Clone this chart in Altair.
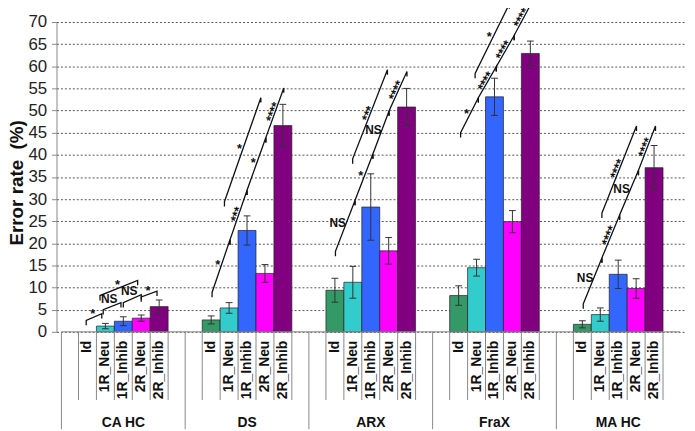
import altair as alt
import pandas as pd
import numpy as np

FONT = "Liberation Sans"

# ---------------- data ----------------
groups = ["CA HC", "DS", "ARX", "FraX", "MA HC"]
conditions = ["Id", "1R_Neu", "1R_Inhib", "2R_Neu", "2R_Inhib"]
colors = ["#339966", "#33CCCC", "#3366FF", "#FF00FF", "#800080"]

id_mean = [0.0, 2.7, 9.4, 8.2, 1.7]
id_err = [0.0, 0.9, 2.7, 2.2, 0.8]
r1neu_mean = [1.3, 5.4, 11.2, 14.5, 3.9]
r1neu_err = [0.6, 1.2, 3.6, 1.9, 1.5]
r1inh_mean = [2.4, 22.9, 28.2, 53.1, 13.0]
r1inh_err = [1.0, 3.3, 7.5, 4.2, 3.2]
r2neu_mean = [3.1, 13.2, 18.3, 24.9, 9.8]
r2neu_err = [0.7, 2.0, 3.0, 2.5, 2.2]
r2inh_mean = [5.7, 46.6, 50.8, 62.9, 37.1]
r2inh_err = [1.5, 4.8, 4.2, 2.8, 5.0]

means = [id_mean, r1neu_mean, r1inh_mean, r2neu_mean, r2inh_mean]
errs = [id_err, r1neu_err, r1inh_err, r2neu_err, r2inh_err]

# significance brackets: group, from bar, to bar, y at start, y at end, label
br_group = [0, 0, 0, 0, 0,
            1, 1, 1, 1, 1,
            2, 2, 2, 2, 2,
            3, 3, 3, 3, 3,
            4, 4, 4, 4, 4]
br_from = [-0.07, 0.88, 0.70, 2.00, 3.00,
           0.05, 1.05, 2.00, 3.05, 0.74,
           0.03, 1.12, 2.12, 3.02, 0.99,
           0.11, 1.10, 2.10, 3.10, 0.92,
           0.05, 1.09, 2.08, 3.13, 1.09]
br_to = [0.80, 1.87, 2.80, 3.00, 3.88,
         1.05, 2.00, 3.05, 4.05, 2.77,
         1.12, 2.12, 3.02, 4.02, 2.93,
         1.10, 2.10, 3.10, 4.09, 2.83,
         1.09, 2.08, 3.13, 4.08, 3.02]
br_y1 = [2.6, 5.0, 8.2, 6.6, 7.9,
         8.9, 20.8, 32.0, 43.9, 29.4,
         18.2, 29.7, 40.2, 49.9, 39.1,
         45.0, 52.9, 59.9, 67.0, 58.4,
         6.3, 16.7, 26.4, 36.5, 26.8]
br_y2 = [4.1, 6.6, 11.6, 8.4, 9.2,
         20.8, 32.0, 43.9, 55.1, 52.9,
         29.7, 40.2, 49.9, 58.8, 59.2,
         52.9, 59.9, 67.0, 74.5, 74.1,
         16.7, 26.4, 36.5, 46.5, 46.5]
br_label = ["*", "NS", "*", "NS", "*",
            "*", "***", "*", "****", "*",
            "NS", "*", "NS", "****", "***",
            "*", "****", "****", "****", "*",
            "NS", "****", "NS", "****", "****"]

# ---------------- layout ----------------
W, H = 635, 313
YMAX = 70
PAD = 17.5 / 127.0       # group margin (group units)
BW = 18.4 / 127.0        # bar width (group units)
SX = W / 5.0             # px per group unit
SY = H / float(YMAX)     # px per y unit
LEG = 1.1                # bracket leg length (y units)

xscale = alt.Scale(domain=[0, 5], nice=False, zero=False)
yscale = alt.Scale(domain=[0, YMAX], nice=False, zero=True)

# bars
rows = []
for g, gname in enumerate(groups):
    for b, cname in enumerate(conditions):
        m = means[b][g]
        e = errs[b][g]
        x0 = g + PAD + b * BW
        rows.append(dict(group=gname, cond=cname, x0=x0, x1=x0 + BW,
                         xc=x0 + BW / 2, value=m, zero=0.0, lo=m - e, hi=m + e,
                         ylab=-2.0,
                         cl=x0 + BW / 2 - 3.5 / SX, cr=x0 + BW / 2 + 3.5 / SX))
bars = pd.DataFrame(rows)
bars_nz = bars[bars["value"] > 0]
errdf = bars[(bars["hi"] - bars["lo"]) > 0]
caps = pd.concat([errdf.assign(ycap=errdf["hi"]), errdf.assign(ycap=errdf["lo"])])

# bracket lines and labels
lrows, trows = [], []
for i in range(len(br_group)):
    g = br_group[i]
    xa = g + PAD + (br_from[i] + 0.5) * BW
    xb = g + PAD + (br_to[i] + 0.5) * BW
    ya, yb = br_y1[i], br_y2[i]
    pts = [(xa, ya - LEG), (xa, ya), (xb, yb), (xb, yb - LEG)]
    for k, (px, py) in enumerate(pts):
        lrows.append(dict(bid=i, k=k, x=px, y=py))
    dx = (xb - xa) * SX
    dy = (yb - ya) * SY
    L = np.hypot(dx, dy)
    nx, ny = -dy / L, dx / L
    lab = br_label[i]
    if lab == "NS":
        d = 6 * abs(ny) + 6.5 * abs(nx)
        ang = 0
        kind = "ns"
    elif lab == "*":
        d = 3.5
        ang = 0
        kind = "star"
    else:
        d = 1.5
        ang = 360 - np.degrees(np.arctan2(dy, dx))
        kind = "star"
    mx, my = (xa + xb) / 2 * SX, (ya + yb) / 2 * SY
    trows.append(dict(label=lab, kind=kind, x=(mx + d * nx) / SX,
                      y=(my + d * ny) / SY, ang=float(ang)))
blines = pd.DataFrame(lrows)
blabels = pd.DataFrame(trows)

# under-axis separators
srows = []
for g in range(len(groups)):
    srows.append(dict(x=g, y1=0, y2=-22.0))
    for b in range(len(conditions) + 1):
        srows.append(dict(x=g + PAD + b * BW, y1=0, y2=-15.4))
seps = pd.DataFrame(srows)
grp = pd.DataFrame(dict(group=groups, x=[g + 0.5 for g in range(len(groups))],
                        y=[-20.5] * len(groups)))
base = pd.DataFrame(dict(x=[0], x2=[5], y=[0]))

# ---------------- chart ----------------
yaxis = alt.Axis(values=list(range(0, YMAX + 1, 5)), grid=True, gridColor="#555",
                 gridDash=[2, 2], gridWidth=1, domainColor="#888", tickColor="#888",
                 tickSize=5, labelFont=FONT, labelFontSize=17, labelColor="#222",
                 labelPadding=5, title="Error rate\u00a0\u00a0(%)", titleFont=FONT,
                 titleFontSize=19, titleFontWeight="bold", titleColor="#111",
                 titleAngle=270, titleX=-40, titleY=162, titleAlign="center",
                 titleBaseline="middle")

X = lambda f: alt.X(f, type="quantitative", scale=xscale, axis=None)
Y = lambda f: alt.Y(f, type="quantitative", scale=yscale, axis=yaxis)

bar_layer = alt.Chart(bars_nz).mark_bar(stroke="#222", strokeWidth=0.7,
                                        orient="vertical").encode(
    x=X("x0"), x2="x1",
    y=Y("value"), y2="zero",
    color=alt.Color("cond:N", scale=alt.Scale(domain=conditions, range=colors), legend=None),
)
err_layer = alt.Chart(errdf).mark_rule(color="#333", strokeWidth=1).encode(
    x=X("xc"), y=Y("lo"), y2="hi")
cap_layer = alt.Chart(caps).mark_rule(color="#333", strokeWidth=1).encode(
    x=X("cl"), x2="cr", y=Y("ycap"))
base_layer = alt.Chart(base).mark_rule(color="#888", strokeWidth=1).encode(
    x=X("x"), x2="x2", y=Y("y"))
br_layer = alt.Chart(blines).mark_line(color="#111", strokeWidth=1.3).encode(
    x=X("x"), y=Y("y"), detail="bid:N", order="k:Q")
star_layer = alt.Chart(blabels).transform_filter(alt.datum.kind == "star").mark_text(
    font=FONT, fontSize=13, fontWeight="bold", color="#111", align="center",
    baseline="middle").encode(
    x=X("x"), y=Y("y"), text="label:N", angle=alt.Angle("ang:Q", scale=None))
ns_layer = alt.Chart(blabels).transform_filter(alt.datum.kind == "ns").mark_text(
    font=FONT, fontSize=12, fontWeight="bold", color="#111", align="center",
    baseline="middle").encode(
    x=X("x"), y=Y("y"), text="label:N")
sep_layer = alt.Chart(seps).mark_rule(color="#888", strokeWidth=1).encode(
    x=X("x"), y=Y("y1"), y2="y2")
cat_layer = alt.Chart(bars).mark_text(font=FONT, fontSize=14, fontWeight="bold",
                                      color="#111", angle=270, align="right",
                                      baseline="middle").encode(
    x=X("xc"), y=Y("ylab"), text="cond:N")
grp_layer = alt.Chart(grp).mark_text(font=FONT, fontSize=14, fontWeight="bold",
                                     color="#111", align="center",
                                     baseline="middle").encode(
    x=X("x"), y=Y("y"), text="group:N")

chart = alt.layer(bar_layer, err_layer, cap_layer, base_layer, sep_layer, br_layer,
                  star_layer, ns_layer, cat_layer, grp_layer).properties(
    width=W, height=H,
    autosize=alt.AutoSizeParams(type="none"),
    padding={"left": 49, "top": 12, "right": 2, "bottom": 98},
    background="white",
).configure_view(strokeWidth=0)

chart.save("out.html", embed_options={"renderer": "svg", "actions": False})
